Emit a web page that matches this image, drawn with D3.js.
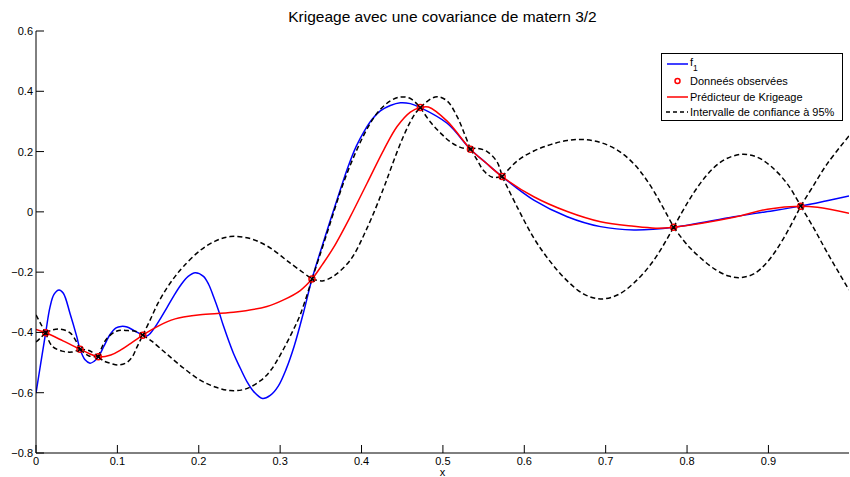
<!DOCTYPE html>
<html><head><meta charset="utf-8">
<script src="https://cdn.jsdelivr.net/npm/d3@7"></script>
<style>
body{margin:0;background:#fff}
svg{display:block}
text{font-family:"Liberation Sans",Arial,Helvetica,sans-serif;fill:#000}
</style>
</head><body>
<svg id="chart" width="850" height="477"></svg>
<script>
// ---------- data ----------
const titleText = "Krigeage avec une covariance de matern 3/2";
const xLabel = "x";
const xTicks = [0, 0.1, 0.2, 0.3, 0.4, 0.5, 0.6, 0.7, 0.8, 0.9];
const yTicks = [-0.8, -0.6, -0.4, -0.2, 0, 0.2, 0.4, 0.6];
const legendLabels = ["f", "Donneés observées", "Prédicteur de Krigeage", "Intervalle de confiance à 95%"];

// observed data
const obsX = [0.0119, 0.0541, 0.0766, 0.1312, 0.3391, 0.4723, 0.5338, 0.5728, 0.7835, 0.9397];
const obsY = [-0.401, -0.456, -0.481, -0.409, -0.223, 0.346, 0.208, 0.117, -0.051, 0.019];

// true function f1
const f1X = [0, 0.0061, 0.0119, 0.0172, 0.0221, 0.0283, 0.0336, 0.0418, 0.0501, 0.0541, 0.0603, 0.0664, 0.0713, 0.0766,
  0.0836, 0.0910, 0.0984, 0.1046, 0.1119, 0.1205, 0.1312, 0.1359, 0.1402, 0.1464, 0.1538, 0.1611, 0.1697, 0.1784,
  0.1870, 0.1956, 0.2058, 0.2122, 0.2181, 0.2245, 0.2304, 0.2427, 0.2509, 0.2592, 0.2681, 0.2784, 0.2878, 0.2977,
  0.3075, 0.3173, 0.3284, 0.3391, 0.3493, 0.3616, 0.3739, 0.3838, 0.3936, 0.4034, 0.4133, 0.4231, 0.4354, 0.4477,
  0.4600, 0.4723, 0.5052, 0.5338, 0.5531, 0.5728, 0.6117, 0.6528, 0.6937, 0.7347, 0.7835, 0.8577, 0.8988, 0.9397,
  0.9705, 0.999];
const f1Y = [-0.601, -0.498, -0.401, -0.316, -0.274, -0.259, -0.270, -0.337, -0.414, -0.456, -0.491, -0.502, -0.496, -0.481,
  -0.445, -0.407, -0.385, -0.380, -0.382, -0.394, -0.409, -0.412, -0.404, -0.382, -0.350, -0.317, -0.277, -0.241,
  -0.214, -0.202, -0.214, -0.241, -0.281, -0.329, -0.379, -0.470, -0.518, -0.563, -0.598, -0.619, -0.609, -0.578,
  -0.521, -0.445, -0.337, -0.223, -0.133, -0.029, 0.073, 0.152, 0.218, 0.268, 0.308, 0.335, 0.353, 0.362,
  0.359, 0.346, 0.294, 0.208, 0.162, 0.117, 0.039, -0.016, -0.049, -0.060, -0.051, -0.016, 0.001, 0.019,
  0.036, 0.053];

// kriging predictor
const predX = [0, 0.0119, 0.0332, 0.0541, 0.0652, 0.0766, 0.0919, 0.1042, 0.1165, 0.1312, 0.1402, 0.1501, 0.1608,
  0.1710, 0.1812, 0.2017, 0.2427, 0.2838, 0.3042, 0.3247, 0.3391, 0.3518, 0.3657, 0.3862, 0.4068, 0.4272, 0.4437,
  0.4600, 0.4723, 0.4822, 0.5052, 0.5338, 0.5531, 0.5728, 0.6117, 0.6528, 0.6937, 0.7347, 0.7614, 0.7835, 0.8577,
  0.8988, 0.9397, 0.9603, 0.999];
const predY = [-0.390, -0.401, -0.428, -0.456, -0.470, -0.481, -0.475, -0.458, -0.436, -0.409, -0.394, -0.379, -0.365,
  -0.355, -0.349, -0.341, -0.333, -0.314, -0.292, -0.261, -0.223, -0.175, -0.118, -0.016, 0.095, 0.205, 0.283,
  0.331, 0.346, 0.348, 0.301, 0.208, 0.162, 0.117, 0.050, 0.001, -0.033, -0.048, -0.054, -0.051, -0.018,
  0.009, 0.019, 0.015, -0.005];

// 95% confidence interval, upper bound
const upperX = [0, 0.0055, 0.0119, 0.0197, 0.0295, 0.0427, 0.0541, 0.0652, 0.0766, 0.0857, 0.0996, 0.1132, 0.1230, 0.1312,
  0.1402, 0.1501, 0.1608, 0.1710, 0.1812, 0.2017, 0.2202, 0.2386, 0.2608, 0.2838, 0.3124, 0.3391, 0.3493, 0.3616,
  0.3739, 0.3838, 0.3936, 0.4034, 0.4133, 0.4231, 0.4354, 0.4477, 0.4600, 0.4723, 0.4846, 0.4932, 0.5052, 0.5175,
  0.5256, 0.5338, 0.5421, 0.5544, 0.5667, 0.5728, 0.5913, 0.6117, 0.6322, 0.6528, 0.6732, 0.6937, 0.7143, 0.7347,
  0.7552, 0.7835, 0.8003, 0.8167, 0.8327, 0.8487, 0.8680, 0.8856, 0.9028, 0.9234, 0.9397, 0.9557, 0.9726, 0.999];
const upperY = [-0.342, -0.370, -0.401, -0.392, -0.389, -0.403, -0.456, -0.460, -0.481, -0.425, -0.395, -0.394, -0.397, -0.409,
  -0.359, -0.302, -0.253, -0.214, -0.181, -0.128, -0.097, -0.082, -0.087, -0.113, -0.170, -0.223, -0.140, -0.037,
  0.066, 0.139, 0.202, 0.258, 0.305, 0.340, 0.368, 0.381, 0.376, 0.346, 0.374, 0.382, 0.368, 0.316,
  0.265, 0.208, 0.211, 0.200, 0.165, 0.117, 0.169, 0.202, 0.223, 0.237, 0.240, 0.230, 0.205, 0.159,
  0.086, -0.051, 0.029, 0.096, 0.146, 0.177, 0.191, 0.182, 0.152, 0.092, 0.019, 0.089, 0.161, 0.252];

// 95% confidence interval, lower bound
const lowerX = [0, 0.0055, 0.0119, 0.0197, 0.0320, 0.0443, 0.0541, 0.0652, 0.0766, 0.0836, 0.0923, 0.1009, 0.1107, 0.1181,
  0.1242, 0.1312, 0.1427, 0.1608, 0.1812, 0.2017, 0.2202, 0.2386, 0.2571, 0.2755, 0.2878, 0.3001, 0.3124, 0.3247,
  0.3391, 0.3518, 0.3657, 0.3862, 0.4068, 0.4272, 0.4354, 0.4437, 0.4514, 0.4588, 0.4656, 0.4723, 0.4846, 0.4969,
  0.5092, 0.5215, 0.5338, 0.5421, 0.5502, 0.5609, 0.5728, 0.5913, 0.6117, 0.6322, 0.6528, 0.6732, 0.6937, 0.7143,
  0.7347, 0.7593, 0.7835, 0.8003, 0.8167, 0.8339, 0.8512, 0.8659, 0.8819, 0.8988, 0.9188, 0.9397, 0.9557, 0.9726, 0.999];
const lowerY = [-0.432, -0.418, -0.401, -0.445, -0.462, -0.465, -0.456, -0.478, -0.481, -0.495, -0.503, -0.508, -0.501, -0.482,
  -0.448, -0.409, -0.430, -0.472, -0.518, -0.558, -0.581, -0.593, -0.588, -0.561, -0.528, -0.475, -0.412, -0.341,
  -0.223, -0.229, -0.213, -0.160, -0.054, 0.079, 0.139, 0.199, 0.250, 0.293, 0.325, 0.346, 0.298, 0.262,
  0.232, 0.214, 0.208, 0.172, 0.136, 0.115, 0.117, 0.016, -0.087, -0.166, -0.229, -0.273, -0.289, -0.276,
  -0.236, -0.160, -0.051, -0.110, -0.153, -0.190, -0.213, -0.218, -0.206, -0.166, -0.087, 0.019, -0.054, -0.137, -0.259];

// ---------- drawing ----------
const svg = d3.select("#chart");
const L = 36, R = 849, T = 31, B = 453;
const x = d3.scaleLinear().domain([0, 0.999]).range([L, R]);
const y = d3.scaleLinear().domain([-0.8, 0.6]).range([B, T]);

svg.append("rect").attr("width", 850).attr("height", 477).attr("fill", "#fff");

svg.append("defs").append("clipPath").attr("id", "clip")
  .append("rect").attr("x", L).attr("y", T).attr("width", R - L).attr("height", B - T);

const zip = (xs, ys) => xs.map((v, i) => [v, ys[i]]);
const line = d3.line().x(d => x(d[0])).y(d => y(d[1])).curve(d3.curveCatmullRom.alpha(0.5));

// split a bound at the observed abscissae (the bounds have kinks there)
function splitAtObs(pts) {
  const segs = []; let cur = [];
  pts.forEach(p => {
    cur.push(p);
    const knot = obsX.some(o => Math.abs(o - p[0]) < 1e-9);
    if (knot) {
      if (cur.length > 1) segs.push(cur);
      cur = [p];
    }
  });
  if (cur.length > 1) segs.push(cur);
  return segs;
}

const plot = svg.append("g").attr("clip-path", "url(#clip)");

// f1 (blue)
plot.append("path").attr("d", line(zip(f1X, f1Y)))
  .attr("fill", "none").attr("stroke", "#0000ff").attr("stroke-width", 1.5);

// predictor (red)
plot.append("path").attr("d", line(zip(predX, predY)))
  .attr("fill", "none").attr("stroke", "#ff0000").attr("stroke-width", 1.5);

// confidence bounds (black dashed)
[zip(upperX, upperY), zip(lowerX, lowerY)].forEach(b => {
  const d = splitAtObs(b).map(s => line(s)).join("");
  plot.append("path").attr("d", d)
    .attr("fill", "none").attr("stroke", "#000").attr("stroke-width", 1.5)
    .attr("stroke-dasharray", "5,3");
});

// observed points: red circle + black cross
const obs = zip(obsX, obsY);
plot.selectAll("circle.obs").data(obs).enter().append("circle")
  .attr("cx", d => x(d[0])).attr("cy", d => y(d[1])).attr("r", 3)
  .attr("fill", "none").attr("stroke", "#ff0000").attr("stroke-width", 1.5);
plot.selectAll("path.cross").data(obs).enter().append("path")
  .attr("d", d => {
    const cx = x(d[0]), cy = y(d[1]), s = 2.5;
    return `M${cx - s},${cy - s}L${cx + s},${cy + s}M${cx - s},${cy + s}L${cx + s},${cy - s}`;
  })
  .attr("stroke", "#000").attr("stroke-width", 1.2);

// axes (MATLAB-style: inward ticks, no box)
const fmt = v => (v < 0 ? "\u2212" : "") + d3.format("")(Math.abs(+v.toFixed(1)));
const ax = svg.append("g").attr("stroke", "#000").attr("stroke-width", 1);
ax.append("line").attr("x1", L).attr("x2", L).attr("y1", T).attr("y2", B);
ax.append("line").attr("x1", L).attr("x2", R).attr("y1", B).attr("y2", B);

xTicks.forEach(t => {
  ax.append("line").attr("x1", x(t)).attr("x2", x(t)).attr("y1", B).attr("y2", B - 8);
  svg.append("text").attr("x", x(t)).attr("y", B + 12).attr("text-anchor", "middle")
    .attr("font-size", 11).text(t === 0 ? "0" : fmt(t));
});
yTicks.forEach(t => {
  ax.append("line").attr("x1", L).attr("x2", L + 8).attr("y1", y(t)).attr("y2", y(t));
  svg.append("text").attr("x", L - 3).attr("y", y(t) + 4).attr("text-anchor", "end")
    .attr("font-size", 11).text(t === 0 ? "0" : fmt(t));
});

svg.append("text").attr("x", (L + R) / 2).attr("y", 476).attr("text-anchor", "middle")
  .attr("font-size", 11).text(xLabel);

svg.append("text").attr("x", (L + R) / 2).attr("y", 22).attr("text-anchor", "middle")
  .attr("font-size", 15.5).text(titleText);

// legend
const lg = svg.append("g");
lg.append("rect").attr("x", 661.5).attr("y", 53.5).attr("width", 181).attr("height", 67)
  .attr("fill", "#fff").attr("stroke", "#000").attr("stroke-width", 1);
const rows = [64, 81, 97, 112];
const lx1 = 667, lx2 = 688, tx = 690;
lg.append("line").attr("x1", lx1).attr("x2", lx2).attr("y1", rows[0]).attr("y2", rows[0])
  .attr("stroke", "#0000ff").attr("stroke-width", 1.5);
const t0 = lg.append("text").attr("x", tx).attr("y", rows[0] + 2).attr("font-size", 11);
t0.append("tspan").text(legendLabels[0]);
t0.append("tspan").attr("dy", 5).attr("font-size", 8.5).text("1");
lg.append("circle").attr("cx", (lx1 + lx2) / 2).attr("cy", rows[1]).attr("r", 2.5)
  .attr("fill", "none").attr("stroke", "#ff0000").attr("stroke-width", 1.5);
lg.append("text").attr("x", tx).attr("y", rows[1] + 4).attr("font-size", 11).text(legendLabels[1]);
lg.append("line").attr("x1", lx1).attr("x2", lx2).attr("y1", rows[2]).attr("y2", rows[2])
  .attr("stroke", "#ff0000").attr("stroke-width", 1.5);
lg.append("text").attr("x", tx).attr("y", rows[2] + 4).attr("font-size", 11).text(legendLabels[2]);
lg.append("line").attr("x1", lx1 - 1).attr("x2", lx2).attr("y1", rows[3]).attr("y2", rows[3])
  .attr("stroke", "#000").attr("stroke-width", 1.5).attr("stroke-dasharray", "4,3");
lg.append("text").attr("x", tx).attr("y", rows[3] + 4).attr("font-size", 11).text(legendLabels[3]);
</script>
</body></html>
